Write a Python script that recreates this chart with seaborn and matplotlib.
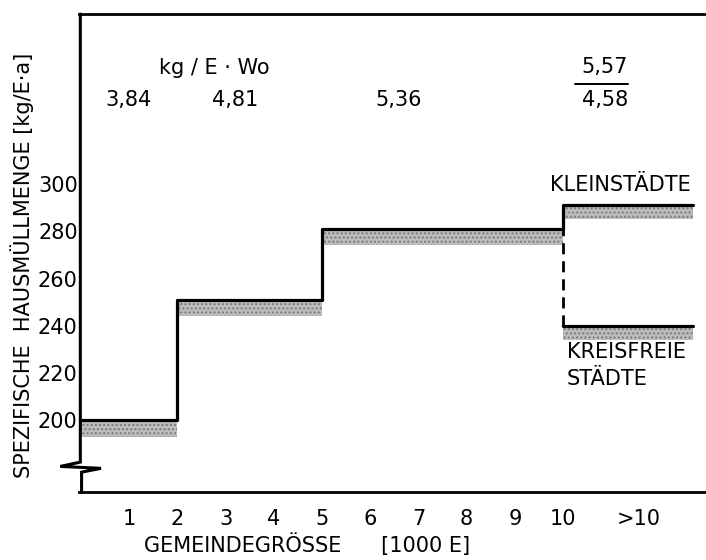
import matplotlib
matplotlib.use("Agg")
import matplotlib.pyplot as plt
import seaborn as sns

# step data: municipality size [1000 E] vs. specific household waste [kg/E·a]
size_edges = [0, 2, 5, 10, 12.7]
waste_upper = [200, 251, 281, 291, 291]      # top line, Kleinstädte beyond 10
waste_lower = [193, 244, 274, 285, 285]      # lower edge of shaded band
kreisfrei_x = [10, 12.7]
kreisfrei_upper = [240, 240]
kreisfrei_lower = [234, 234]

# weekly values kg/E·Wo shown above the classes
wo_x = [0.98, 3.2, 6.58]
wo_labels = ["3,84", "4,81", "5,36"]
wo_big_x = 10.87
wo_big = ["5,57", "4,58"]

xtick_pos = [1, 2, 3, 4, 5, 6, 7, 8, 9, 10, 11.57]
xtick_labels = ["1", "2", "3", "4", "5", "6", "7", "8", "9", "10", ">10"]
ytick_pos = [200, 220, 240, 260, 280, 300]

sns.set_style("white")
plt.rcParams["font.family"] = ["DejaVu Sans"]
plt.rcParams["text.color"] = "black"
plt.rcParams["xtick.color"] = "black"
plt.rcParams["ytick.color"] = "black"

fig = plt.figure(figsize=(7.06, 5.6), dpi=100)
ax = fig.add_axes([0.112, 0.121, 0.887, 0.854])

band_col = "#bdbdbd"
hatch_col = "#7a7a7a"
ax.fill_between(size_edges[:4], waste_lower[:4], waste_upper[:4], step="post",
                facecolor=band_col, edgecolor=hatch_col, hatch="....", linewidth=0)
ax.fill_between(size_edges[3:], waste_lower[3:], waste_upper[3:],
                facecolor=band_col, edgecolor=hatch_col, hatch="....", linewidth=0)
ax.fill_between(kreisfrei_x, kreisfrei_lower, kreisfrei_upper,
                facecolor=band_col, edgecolor=hatch_col, hatch="....", linewidth=0)

sns.lineplot(x=size_edges, y=waste_upper, drawstyle="steps-post", estimator=None,
             sort=False, color="black", linewidth=2.3, ax=ax)
sns.lineplot(x=kreisfrei_x, y=kreisfrei_upper, estimator=None, sort=False,
             color="black", linewidth=2.3, ax=ax)
ax.plot([10, 10], [kreisfrei_upper[0], waste_upper[2]], color="black",
        linewidth=2.0, dashes=(4, 2.5))

ax.set_xlim(-0.04, 12.95)
ax.set_ylim(169.5, 372)
ax.set_xticks(xtick_pos)
ax.set_xticklabels(xtick_labels)
ax.set_yticks(ytick_pos)
ax.tick_params(axis="both", length=0, labelsize=15, labelcolor="black")
ax.tick_params(axis="x", pad=12)
ax.tick_params(axis="y", pad=1)

for s in ["right", "left"]:
    ax.spines[s].set_visible(False)
for s in ["top", "bottom"]:
    ax.spines[s].set_linewidth(2.0)
    ax.spines[s].set_color("black")

# left spine with axis break zigzag (axes fraction)
bx = [0.002, 0.002, -0.03, 0.035, 0.004, 0.004]
by = [1.0, 0.063, 0.054, 0.050, 0.042, 0.0]
ax.plot(bx, by, transform=ax.transAxes, color="black", linewidth=2.2,
        clip_on=False, solid_joinstyle="miter")

# annotations
ax.text(2.77, 349, "kg / E · Wo", ha="center", va="center", fontsize=15)
for x, lab in zip(wo_x, wo_labels):
    ax.text(x, 335.6, lab, ha="center", va="center", fontsize=15)
ax.text(wo_big_x, 349.6, wo_big[0], ha="center", va="center", fontsize=15)
ax.text(wo_big_x, 335.6, wo_big[1], ha="center", va="center", fontsize=15)
ax.plot([10.25, 11.35], [342.3, 342.3], color="black", linewidth=1.4)

ax.text(9.73, 299.6, "KLEINSTÄDTE", ha="left", va="center", fontsize=15)
ax.text(10.08, 233, "KREISFREIE\nSTÄDTE", ha="left", va="top", fontsize=15,
        linespacing=1.45)

fig.text(22 / 706, 1 - 265 / 560, "SPEZIFISCHE  HAUSMÜLLMENGE [kg/E·a]",
         rotation=90, ha="center", va="center", fontsize=15)
fig.text(307 / 706, 1 - 545 / 560, "GEMEINDEGRÖSSE      [1000 E]",
         ha="center", va="center", fontsize=15)

fig.savefig("out.png", dpi=100)
